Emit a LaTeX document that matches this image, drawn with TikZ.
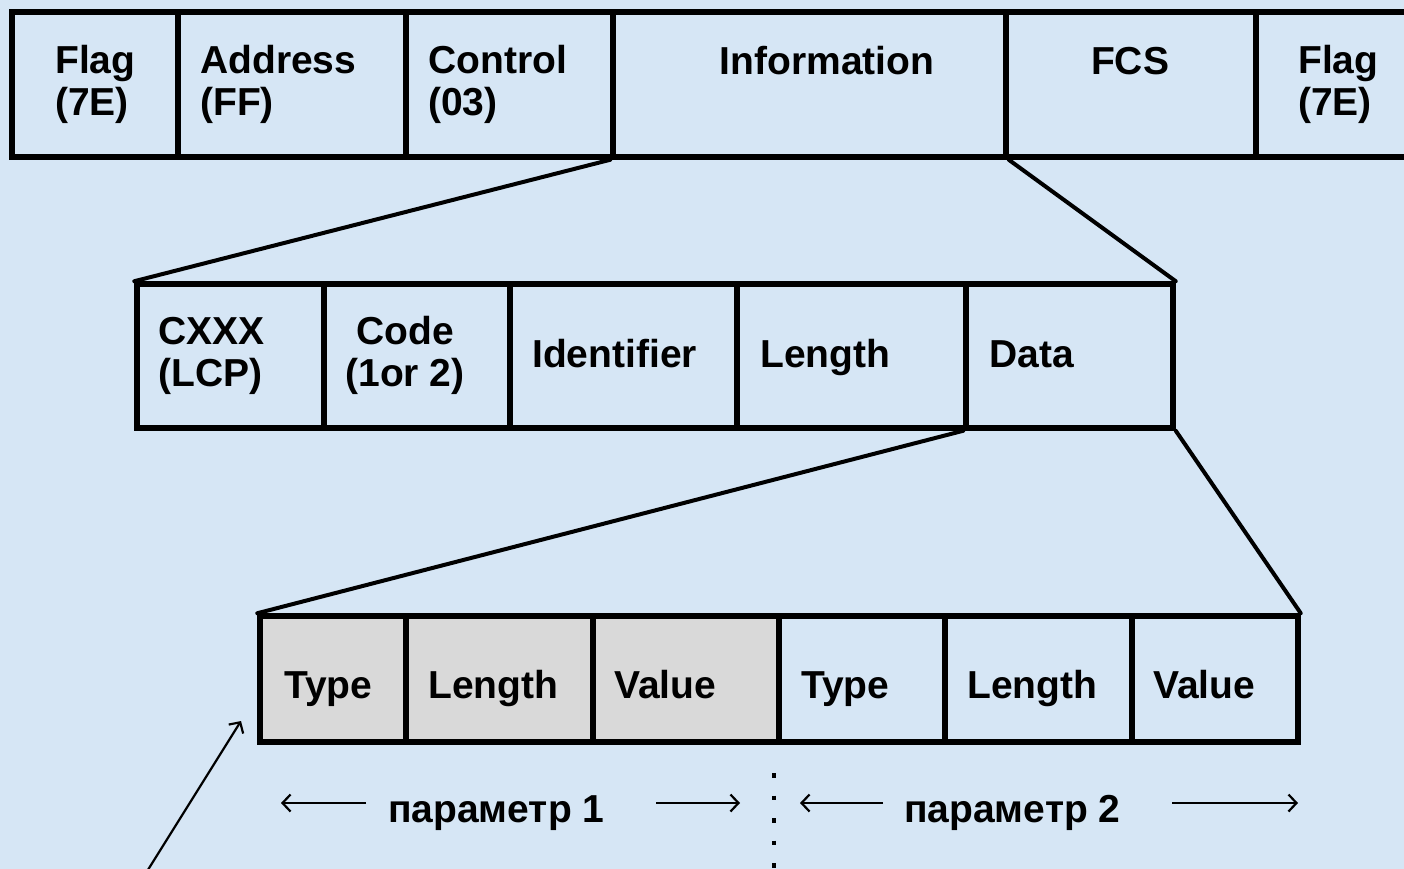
\documentclass[tikz,border=0pt]{standalone}
\usepackage{fontspec}
\setmainfont{Liberation Sans}
\usetikzlibrary{arrows.meta,fit}
\definecolor{bgblue}{RGB}{214,230,245}
\definecolor{cellgray}{RGB}{217,217,217}
\begin{document}
\begin{tikzpicture}[x=1pt,y=-1pt,
  cell/.style={draw=black,line width=5.5pt,inner sep=0pt,rectangle},
  grayc/.style={cell,fill=cellgray},
  lbl/.style={inner sep=0pt,font=\fontsize{39}{42}\selectfont\bfseries,align=left},
  lblc/.style={lbl,align=center},
  link/.style={line width=4pt,line cap=round},
  thinarrow/.style={line width=2.2pt,-{Straight Barb[length=8pt,width=17pt]}},
]
\useasboundingbox (0,0) rectangle (1404,869);
\clip (0,0) rectangle (1404,869);
\fill[bgblue] (0,0) rectangle (1404,869);

% ---- PPP frame ----
\node[cell,fit={(12,12) (178,157)}] (flagA) {};
\node[cell,fit={(178,12) (406,157)}] (addr) {};
\node[cell,fit={(406,12) (613,157)}] (ctrl) {};
\node[cell,fit={(613,12) (1006,157)}] (info) {};
\node[cell,fit={(1006,12) (1256,157)}] (fcs) {};
\node[cell,fit={(1256,12) (1430,157)}] (flagB) {};

% two-line labels are anchored on the baseline of their last line
\node[lbl,anchor=base west] (tflagA) at (55,116) {Flag\\(7E)};
\node[lbl,anchor=base west] (taddr) at (200,116) {Address\\(FF)};
\node[lbl,anchor=base west] (tctrl) at (428,116) {Control\\(03)};
\node[lbl,anchor=base] (tinfo) at (827,75) {Information};
\node[lbl,anchor=base] (tfcs) at (1130,75) {FCS};
\node[lbl,anchor=base west] (tflagB) at (1298,116) {Flag\\(7E)};

% ---- LCP packet ----
\node[cell,fit={(137,284) (324,428)}] (proto) {};
\node[cell,fit={(324,284) (510,428)}] (code) {};
\node[cell,fit={(510,284) (737,428)}] (ident) {};
\node[cell,fit={(737,284) (966,428)}] (len) {};
\node[cell,fit={(966,284) (1173,428)}] (data) {};

\node[lbl,anchor=base west] (tproto) at (158,386) {CXXX\\(LCP)};
\node[lblc,anchor=base] (tcode) at (405,386) {Code\\(1or 2)};
\node[lbl,anchor=base west] (tident) at (532,367) {Identifier};
\node[lbl,anchor=base west] (tlen) at (760,367) {Length};
\node[lbl,anchor=base west] (tdata) at (989,367) {Data};

% ---- options (TLV) ----
\node[grayc,fit={(260,616) (406,742)}] (typeA) {};
\node[grayc,fit={(406,616) (593,742)}] (lenA) {};
\node[grayc,fit={(593,616) (779,742)}] (valA) {};
\node[cell,fit={(779,616) (945,742)}] (typeB) {};
\node[cell,fit={(945,616) (1132,742)}] (lenB) {};
\node[cell,fit={(1132,616) (1298,742)}] (valB) {};

\node[lbl,anchor=base west] (ttypeA) at (284,698) {Type};
\node[lbl,anchor=base west] (tlenA) at (428,698) {Length};
\node[lbl,anchor=base west] (tvalA) at (614,698) {Value};
\node[lbl,anchor=base west] (ttypeB) at (801,698) {Type};
\node[lbl,anchor=base west] (tlenB) at (967,698) {Length};
\node[lbl,anchor=base west] (tvalB) at (1153,698) {Value};

% ---- expansion lines ----
\draw[link] (info.south west) -- (proto.north west);
\draw[link] (info.south east) -- (data.north east);
\draw[link] (data.south west) -- (typeA.north west);
\draw[link] (data.south east) -- (valB.north east);

% ---- pointer arrow ----
\coordinate (ptrStart) at (146,873);
\coordinate (ptrEnd) at (241,721);
\draw[thinarrow] (ptrStart) -- (ptrEnd);

% ---- parameter spans ----
\node[lbl,anchor=base west] (par1) at (388,822) {параметр 1};
\node[lbl,anchor=base west] (par2) at (904,822) {параметр 2};
\coordinate (a1s) at (366,803); \coordinate (a1e) at (281,803);
\coordinate (a2s) at (656,803); \coordinate (a2e) at (740,803);
\coordinate (a3s) at (883,803); \coordinate (a3e) at (800,803);
\coordinate (a4s) at (1172,803); \coordinate (a4e) at (1298,803);
\draw[thinarrow] (a1s) -- (a1e);
\draw[thinarrow] (a2s) -- (a2e);
\draw[thinarrow] (a3s) -- (a3e);
\draw[thinarrow] (a4s) -- (a4e);

\coordinate (sepTop) at (774,773);
\coordinate (sepBot) at (774,880);
\draw[line width=4.5pt,dash pattern=on 4.5pt off 18pt] (sepTop) -- (sepBot);
\end{tikzpicture}
\end{document}
